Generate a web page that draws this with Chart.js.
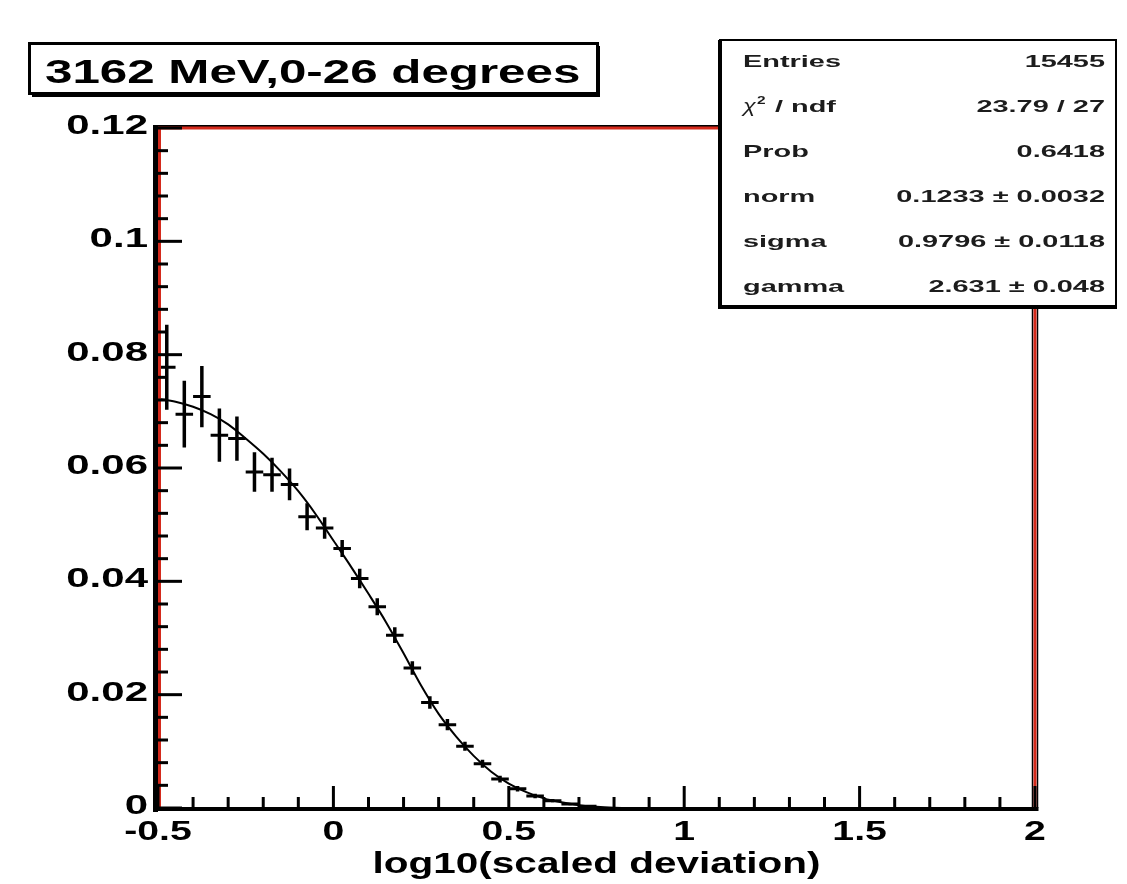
<!DOCTYPE html>
<html>
<head>
<meta charset="utf-8">
<script src="https://cdn.jsdelivr.net/npm/chart.js@4.4.1/dist/chart.umd.min.js"></script>
<style>
  html, body { margin: 0; padding: 0; background: #fff; }
  canvas { display: block; }
</style>
</head>
<body>
<canvas id="deviation-chart" width="1127" height="884"></canvas>
<script>
// histogram bins (log10 of scaled deviation), bin width 0.05
const binCenters = [-0.475, -0.425, -0.375, -0.325, -0.275, -0.225, -0.175, -0.125, -0.075, -0.025,
  0.025, 0.075, 0.125, 0.175, 0.225, 0.275, 0.325, 0.375, 0.425, 0.475,
  0.525, 0.575, 0.625, 0.675, 0.725];
const binValues = [0.0778, 0.0695, 0.0726, 0.0658, 0.0652, 0.0593, 0.0588, 0.0571, 0.0514, 0.0494,
  0.0458, 0.0405, 0.0355, 0.0305, 0.0247, 0.0186, 0.0147, 0.0109, 0.0078, 0.0051,
  0.0034, 0.0021, 0.0013, 0.0007, 0.0003];
const binErrors = [0.0075, 0.0059, 0.0054, 0.0047, 0.0039, 0.0035, 0.0030, 0.0028, 0.0024, 0.0019,
  0.0015, 0.0017, 0.0015, 0.0014, 0.0012, 0.0011, 0.0010, 0.0008, 0.0007, 0.0006,
  0.0005, 0.0004, 0.0003, 0.0002, 0.0001];
const binHalfWidth = 0.025;

// fitted curve
const fitX = [-0.5, -0.45, -0.4, -0.35, -0.3, -0.25, -0.2, -0.15, -0.1, -0.05, 0, 0.05, 0.1, 0.15,
  0.2, 0.25, 0.3, 0.35, 0.4, 0.45, 0.5, 0.55, 0.6, 0.65, 0.7, 0.75, 0.8, 0.85];
const fitY = [0.0722, 0.0717, 0.0708, 0.0695, 0.0677, 0.0652, 0.0625, 0.0594, 0.0559, 0.0518, 0.0472,
  0.0426, 0.0378, 0.0328, 0.0273, 0.0216, 0.0166, 0.0126, 0.0092, 0.0064, 0.0043, 0.0028, 0.0017,
  0.0010, 0.0005, 0.0002, 0.00005, 0];

// axes
const xTickValues = [-0.5, 0, 0.5, 1, 1.5, 2];
const xTickLabels = ["-0.5", "0", "0.5", "1", "1.5", "2"];
const yTickValues = [0, 0.02, 0.04, 0.06, 0.08, 0.1, 0.12];
const yTickLabels = ["0", "0.02", "0.04", "0.06", "0.08", "0.1", "0.12"];
const xTitle = "log10(scaled deviation)";
const plotTitle = "3162 MeV,0-26 degrees";

// fit statistics box
const statNames = ["Entries", "chi2", "Prob", "norm", "sigma", "gamma"];
const statValues = ["15455", "23.79 / 27", "0.6418", "0.1233 \u00b1 0.0032", "0.9796 \u00b1 0.0118", "2.631 \u00b1 0.048"];

const FONT = "'Liberation Sans', Arial, Helvetica, sans-serif";
const RED = "#d42a1c";

// error bars as broken line segments
const vBars = [];
const hBars = [];
binCenters.forEach((x, i) => {
  const y = binValues[i];
  const e = binErrors[i];
  vBars.push({ x: x, y: y - e }, { x: x, y: y + e }, { x: x, y: null });
  hBars.push({ x: x - binHalfWidth, y: y }, { x: x + binHalfWidth, y: y }, { x: x, y: null });
});

function wideText(ctx, text, x, y, stretch, align) {
  ctx.save();
  ctx.translate(x, y);
  ctx.scale(stretch, 1);
  ctx.textAlign = align;
  ctx.textBaseline = "alphabetic";
  ctx.fillText(text, 0, 0);
  ctx.restore();
}

function line(ctx, x1, y1, x2, y2, w, color) {
  ctx.beginPath();
  ctx.lineWidth = w;
  ctx.strokeStyle = color;
  ctx.moveTo(x1, y1);
  ctx.lineTo(x2, y2);
  ctx.stroke();
}

const rootFrame = {
  id: "rootFrame",
  afterDraw(chart) {
    const ctx = chart.ctx;
    const xs = chart.scales.x;
    const ys = chart.scales.y;
    const a = chart.chartArea;
    ctx.save();
    ctx.lineCap = "butt";

    // red frame with dark edges
    line(ctx, a.left - 4, a.top - 2, a.right + 4, a.top - 2, 2, "#000");
    line(ctx, a.left, a.top, a.right, a.top, 3, RED);
    line(ctx, a.right - 2.5, a.top, a.right - 2.5, a.bottom, 1.5, "#000");
    line(ctx, a.right + 2.5, a.top - 2, a.right + 2.5, a.bottom, 1.5, "#000");
    line(ctx, a.right, a.top, a.right, a.bottom, 3, RED);
    line(ctx, a.left + 1.5, a.top, a.left + 1.5, a.bottom, 3, RED);
    line(ctx, a.left - 2.5, a.top - 3, a.left - 2.5, a.bottom + 4, 5, "#000");
    line(ctx, a.left - 5, a.bottom + 1, a.right + 3.5, a.bottom + 1, 4, "#000");

    // ticks inside the frame
    for (let v = -0.5; v <= 2.0001; v += 0.1) {
      const px = xs.getPixelForValue(v);
      const major = Math.abs(v * 2 - Math.round(v * 2)) < 1e-6;
      line(ctx, px, a.bottom, px, a.bottom - (major ? 22 : 11), 3, "#000");
    }
    for (let v = 0; v <= 0.12001; v += 0.004) {
      const py = ys.getPixelForValue(v);
      const major = Math.abs(v * 50 - Math.round(v * 50)) < 1e-6;
      line(ctx, a.left, py, a.left + (major ? 24 : 10), py, 3, "#000");
    }

    // tick labels
    ctx.fillStyle = "#000";
    ctx.font = "bold 28px " + FONT;
    yTickValues.forEach((v, i) => {
      wideText(ctx, yTickLabels[i], 148, ys.getPixelForValue(v) + 6, 1.5, "right");
    });
    xTickValues.forEach((v, i) => {
      wideText(ctx, xTickLabels[i], xs.getPixelForValue(v), 840, 1.4, "center");
    });

    // axis title
    ctx.font = "bold 30px " + FONT;
    wideText(ctx, xTitle, (a.left + a.right) / 2, 873, 1.35, "center");

    // title box
    ctx.fillStyle = "#fff";
    ctx.fillRect(29, 43, 569, 50);
    ctx.lineWidth = 3;
    ctx.strokeStyle = "#000";
    ctx.strokeRect(29.5, 43.5, 568, 50);
    line(ctx, 32, 95.5, 600, 95.5, 3, "#000");
    line(ctx, 599, 46, 599, 97, 2, "#000");
    ctx.fillStyle = "#000";
    ctx.font = "bold 34px " + FONT;
    wideText(ctx, plotTitle, 45, 83, 1.45, "left");

    // stats box
    ctx.fillStyle = "#fff";
    ctx.fillRect(720, 40, 396, 266);
    ctx.lineWidth = 2;
    ctx.strokeRect(720, 40, 396, 266);
    line(ctx, 720, 40, 720, 309, 4, "#000");
    line(ctx, 718, 307, 1117, 307, 4, "#000");
    ctx.fillStyle = "#1c1c1c";
    statNames.forEach((name, i) => {
      const base = 61 + 45 * i + 6;
      if (name === "chi2") {
        ctx.font = "italic 18px " + FONT;
        wideText(ctx, "\u03c7", 743, base, 1.3, "left");
        ctx.font = "bold 11px " + FONT;
        wideText(ctx, "2", 757, base - 8, 1.4, "left");
        ctx.font = "bold 17px " + FONT;
        wideText(ctx, "/ ndf", 775, base, 1.7, "left");
      } else {
        ctx.font = "bold 17px " + FONT;
        wideText(ctx, name, 743, base, 1.7, "left");
      }
      ctx.font = "bold 17px " + FONT;
      wideText(ctx, statValues[i], 1105, base, 1.7, "right");
    });
    ctx.restore();
  }
};

const ctx = document.getElementById("deviation-chart").getContext("2d");

new Chart(ctx, {
  type: "line",
  data: {
    datasets: [
      {
        label: "fit",
        data: fitX.map((x, i) => ({ x: x, y: fitY[i] })),
        borderColor: "#000",
        borderWidth: 2,
        pointRadius: 0,
        cubicInterpolationMode: "monotone",
        fill: false
      },
      {
        label: "vertical errors",
        data: vBars,
        borderColor: "#000",
        borderWidth: 3.5,
        pointRadius: 0,
        spanGaps: false,
        fill: false
      },
      {
        label: "bin widths",
        data: hBars,
        borderColor: "#000",
        borderWidth: 3,
        pointRadius: 0,
        spanGaps: false,
        fill: false
      }
    ]
  },
  options: {
    responsive: false,
    animation: false,
    devicePixelRatio: 1,
    layout: { padding: { left: 158, right: 92, top: 128, bottom: 76 } },
    scales: {
      x: { type: "linear", min: -0.5, max: 2, display: false },
      y: { type: "linear", min: 0, max: 0.12, display: false }
    },
    plugins: {
      legend: { display: false },
      tooltip: { enabled: false }
    }
  },
  plugins: [rootFrame]
});
</script>
</body>
</html>
